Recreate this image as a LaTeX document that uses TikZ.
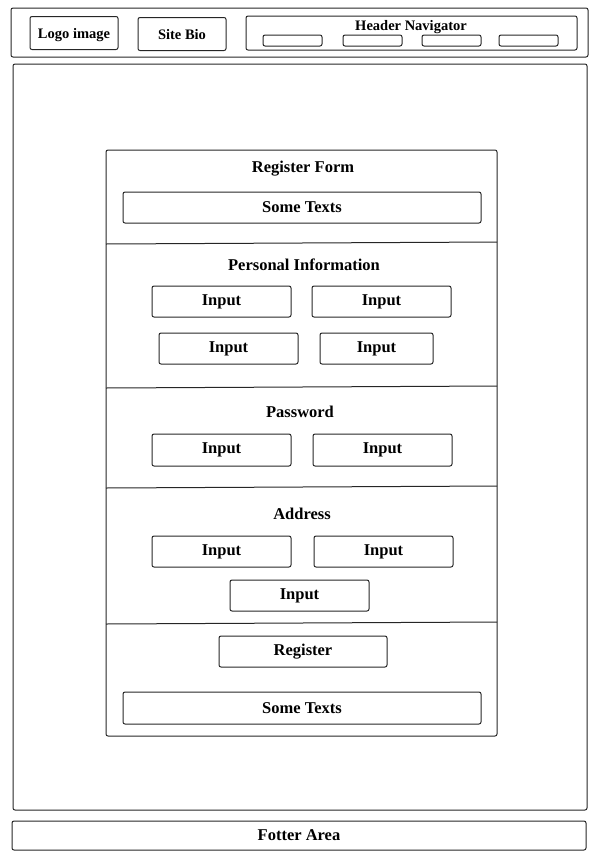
\documentclass[tikz,border=0pt]{standalone}
\usepackage{fontspec}
\setmainfont{Liberation Serif}
\usetikzlibrary{positioning}

\tikzset{
  frame/.style={draw=black!85,line width=1pt,rounded corners=2pt},
  field/.style={frame,minimum width=139pt,minimum height=31pt,inner sep=0pt,
    font=\bfseries\fontsize{16.5}{18}\selectfont},
  headbox/.style={frame,minimum width=88pt,minimum height=33pt,inner sep=0pt,
    text depth=0pt,font=\bfseries\fontsize{14.5}{17}\selectfont},
  caption/.style={inner sep=0pt,text depth=0pt,font=\bfseries\fontsize{16.5}{18}\selectfont}
}

\begin{document}
\begin{tikzpicture}[x=1pt,y=-1pt]
        \useasboundingbox (0,0) rectangle (600,857);

        % header
        \node[frame,minimum width=577pt,minimum height=49pt] at (299.5,32.5) (header) {};
        \node[headbox] at (74,33) (logo) {Logo image};
        \node[headbox] at (182,34) (bio) {Site Bio};
        \node[frame,minimum width=331pt,minimum height=34pt] at (411.5,33) (nav) {};
        \node[caption,font=\bfseries\fontsize{14.5}{17}\selectfont] at (411,25) (navtitle) {Header Navigator};
        \foreach \x/\i in {292.5/1,372.5/2,451.5/3,528.5/4}
          \node[frame,minimum width=59pt,minimum height=11pt,inner sep=0pt] at (\x,40.5) (link\i) {};

        % main area and form
        \node[frame,minimum width=574pt,minimum height=746pt] at (300,437) (main) {};
        \node[frame,minimum width=391pt,minimum height=586pt] at (301.5,443) (form) {};

        \node[caption] at (303,167) (formtitle) {Register Form};
        \node[field,minimum width=358pt] at (302,207.5) (toptext) {Some Texts};
        \draw[black!85,line width=1pt] (106,244) -- (497,242);

        \node[caption] at (304,265) (personal) {Personal Information};
        \node[field] at (221.5,301.5) (pin1) {Input};
        \node[field] at (381.5,301.5) (pin2) {Input};
        \node[field] at (228.5,348.5) (pin3) {Input};
        \node[field,minimum width=113pt] at (376.5,348.5) (pin4) {Input};
        \draw[black!85,line width=1pt] (106,388) -- (497,386);

        \node[caption] at (300,412) (password) {Password};
        \node[field,minimum height=32pt] at (221.5,450) (pw1) {Input};
        \node[field,minimum height=32pt] at (382.5,450) (pw2) {Input};
        \draw[black!85,line width=1pt] (106,488) -- (497,486);

        \node[caption] at (302,514) (address) {Address};
        \node[field] at (221.5,551.5) (ad1) {Input};
        \node[field] at (383.5,551.5) (ad2) {Input};
        \node[field] at (299.5,595.5) (ad3) {Input};
        \draw[black!85,line width=1pt] (106,624) -- (497,622);

        \node[field,minimum width=168pt] at (303,651.5) (register) {Register};
        \node[field,minimum width=358pt,minimum height=32pt] at (302,708) (bottomtext) {Some Texts};

        % footer
        \node[field,minimum width=574pt,minimum height=29pt] at (299,835.5) (footer) {Fotter Area};
\end{tikzpicture}
\end{document}
